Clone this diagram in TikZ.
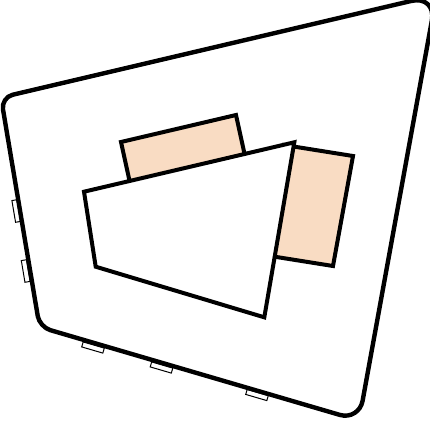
\documentclass[tikz,border=0pt]{standalone}
\usetikzlibrary{calc}
\definecolor{peach}{HTML}{F9DCC3}

\begin{document}
\begin{tikzpicture}[x=1pt, y=-1pt,
  wall/.style={line width=4.4pt, line join=round},
  block/.style={line width=4pt, line join=miter},
  tab/.style={draw, fill=white, line width=1pt}]
  \useasboundingbox (0,0) rectangle (430,421);

  \coordinate (TL) at (1, 97.5);
  \coordinate (TR) at (436.5, -5);
  \coordinate (BR) at (359, 420.5);
  \coordinate (BL) at (39.6, 327);

  \coordinate (P1) at (121, 142);
  \coordinate (P2) at (236, 115);
  \coordinate (P3) at (245, 156);
  \coordinate (P4) at (130, 183);

  \coordinate (Q1) at (284, 145);
  \coordinate (Q2) at (353, 156);
  \coordinate (Q3) at (333, 266);
  \coordinate (Q4) at (264, 255);

  \coordinate (W1) at (84, 191.7);
  \coordinate (W2) at (294.3, 142.3);
  \coordinate (W3) at (264.3, 317.3);
  \coordinate (W4) at (95.7, 266.7);

  \foreach \p/\a in {{(16.3,211)}/-80.45, {(25.7,271)}/-80.45,
                     {(93,347.5)}/-16.3, {(161.5,367.5)}/-16.3, {(257,395)}/-16.3}
    \draw[tab, shift={\p}, rotate=\a] (-11,-2.6) rectangle (11,2.6);

  \draw[wall] ($(TL)!12pt!(TR)$) -- ($(TR)!26pt!(TL)$)
    .. controls ($(TR)!11.5pt!(TL)$) and ($(TR)!11.5pt!(BR)$) .. ($(TR)!26pt!(BR)$)
    -- ($(BR)!20pt!(TR)$)
    .. controls ($(BR)!9pt!(TR)$) and ($(BR)!9pt!(BL)$) .. ($(BR)!20pt!(BL)$)
    -- ($(BL)!11pt!(BR)$)
    .. controls ($(BL)!5pt!(BR)$) and ($(BL)!5pt!(TL)$) .. ($(BL)!11pt!(TL)$)
    -- ($(TL)!12pt!(BL)$)
    .. controls ($(TL)!5.4pt!(BL)$) and ($(TL)!5.4pt!(TR)$) .. ($(TL)!12pt!(TR)$)
    -- cycle;

  \draw[block, fill=peach] (P1) -- (P2) -- (P3) -- (P4) -- cycle;
  \draw[block, fill=peach] (Q1) -- (Q2) -- (Q3) -- (Q4) -- cycle;
  \draw[block, fill=white] (W1) -- (W2) -- (W3) -- (W4) -- cycle;
\end{tikzpicture}
\end{document}
